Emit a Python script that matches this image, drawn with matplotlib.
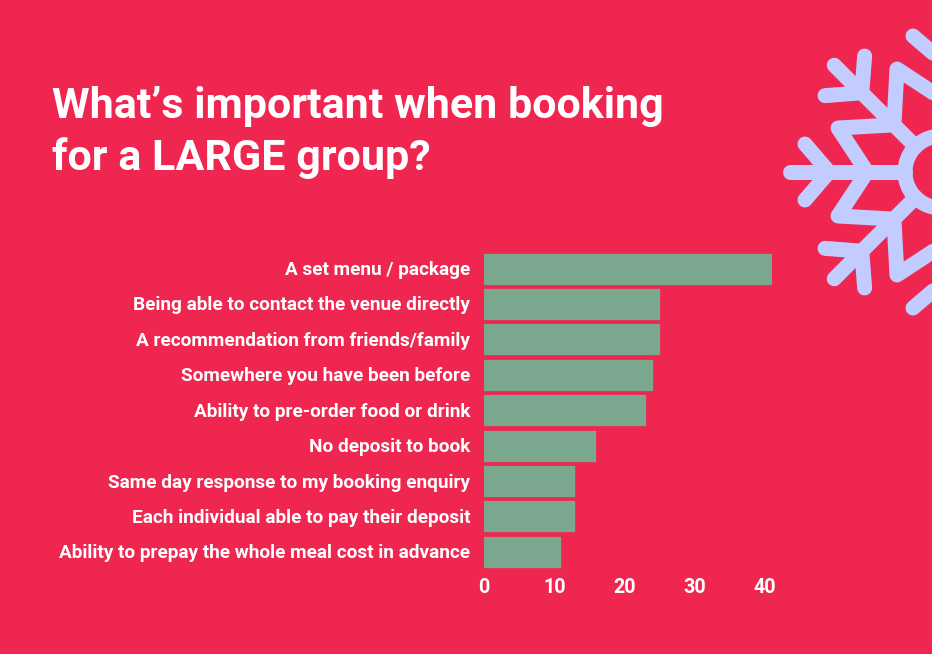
import numpy as np
import matplotlib
matplotlib.use("Agg")
import matplotlib.pyplot as plt
from matplotlib.transforms import ScaledTranslation

labels = ["A set menu / package", "Being able to contact the venue directly",
          "A recommendation from friends/family", "Somewhere you have been before",
          "Ability to pre-order food or drink", "No deposit to book",
          "Same day response to my booking enquiry", "Each individual able to pay their deposit",
          "Ability to prepay the whole meal cost in advance"]
values = [41, 25, 25, 24, 23, 16, 13, 13, 11]
ticks = [0, 10, 20, 30, 40]

bg = "#EE2650"
green = "#7BA78F"
flake = "#C2CCFF"
W = 932
H = 654

plt.rcParams['font.family'] = ['Roboto', 'DejaVu Sans']

fig = plt.figure(figsize=(W / 100, H / 100), dpi=100, facecolor=bg)

# snowflake, in pixel coordinates of the picture
deco = fig.add_axes([0, 0, 1, 1])
deco.set_xlim(0, W)
deco.set_ylim(H, 0)
deco.axis("off")
cx, cy = 941, 172
lw = 15 * 0.72


def stroke(pts, ang):
    pts = np.array(pts, dtype=float)
    c, s = np.cos(ang), np.sin(ang)
    x = cx + pts[:, 0] * c - pts[:, 1] * s
    y = cy + pts[:, 0] * s + pts[:, 1] * c
    deco.plot(x, y, color=flake, lw=lw, solid_capstyle="round", solid_joinstyle="round")


for i in range(8):
    a = i * np.pi / 4
    stroke([(-36, 0), (-151, 0)], a)
    stroke([(-112, 0), (-136, -28)], a)
    stroke([(-112, 0), (-136, 28)], a)
    if i % 2 == 0:
        stroke([(-74, 0), (-103, -44), (-49, -47)], a)
        stroke([(-74, 0), (-103, 44), (-49, 47)], a)
t = np.linspace(0, 2 * np.pi, 200)
deco.plot(cx + 36 * np.cos(t), cy + 36 * np.sin(t), color=flake, lw=lw)

# bars
step = 35.42
top = 269 - step / 2
ax = fig.add_axes([484 / W, 1 - (top + 9 * step) / H, (772 - 484) / W, 9 * step / H])
ax.set_facecolor("none")
y = np.arange(len(labels))
ax.barh(y, values, height=31 / step, color=green, edgecolor=green, linewidth=0.2, joinstyle="round")
ax.set_xlim(0, 41)
ax.set_ylim(len(labels) - 0.5, -0.5)
ax.set_yticks(y)
ax.set_yticklabels(labels)
ax.set_xticks(ticks)
ax.tick_params(axis="y", length=0, pad=10, labelcolor="white", labelsize=13.65)
ax.tick_params(axis="x", length=0, pad=6, labelcolor="white", labelsize=14.2)
up = ScaledTranslation(0, 1 / 100, fig.dpi_scale_trans)
for lab in ax.get_yticklabels() + ax.get_xticklabels():
    lab.set_fontweight("bold")
for lab in ax.get_yticklabels():
    lab.set_verticalalignment("center_baseline")
    lab.set_transform(lab.get_transform() + up)
for sp in ax.spines.values():
    sp.set_visible(False)

fig.text(52 / W, 1 - 118 / H, "What’s important when booking", color="white", fontsize=31,
         fontweight="bold", va="baseline", ha="left")
fig.text(52 / W, 1 - 170 / H, "for a LARGE group?", color="white", fontsize=31,
         fontweight="bold", va="baseline", ha="left")

fig.savefig("out.png", dpi=100, facecolor=bg)
